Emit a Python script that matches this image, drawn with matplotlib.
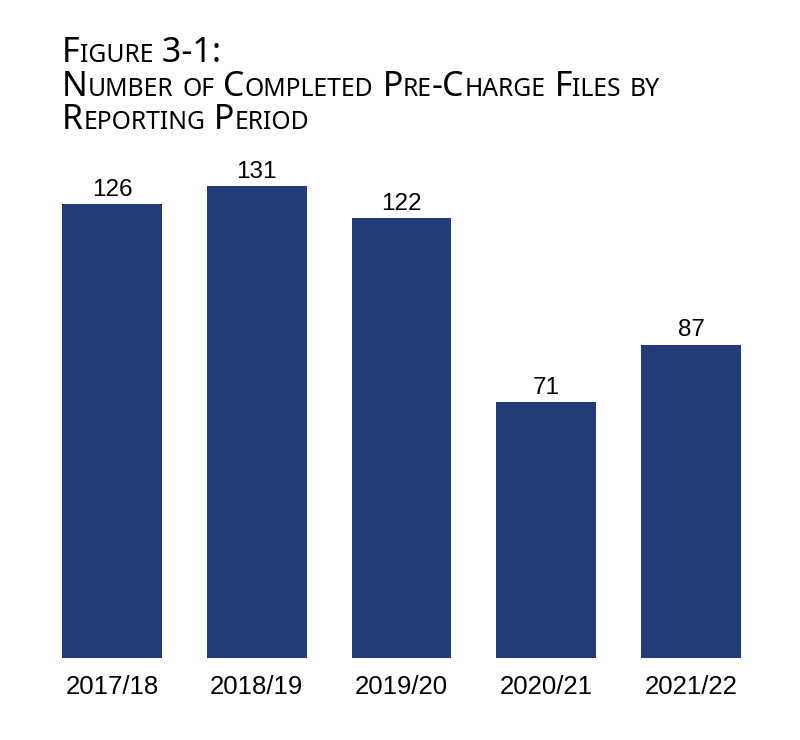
import matplotlib
matplotlib.use("Agg")
import matplotlib.pyplot as plt

# data
periods = ["2017/18", "2018/19", "2019/20", "2020/21", "2021/22"]
files_completed = [126, 131, 122, 71, 87]
title_lines = ["Figure 3-1:",
               "Number of Completed Pre-Charge Files by",
               "Reporting Period"]

bar_color = "#223c78"
num_font = "Liberation Sans"
title_font = "Noto Sans"

fig = plt.figure(figsize=(8, 7.4), dpi=100)
ax = fig.add_axes([39.6 / 800, 82 / 740, (763.4 - 39.6) / 800, 504.4 / 740])

x = range(len(periods))
bars = ax.bar(x, files_completed, width=0.69, color=bar_color)
ax.set_xlim(-0.5, len(periods) - 0.5)
ax.set_ylim(0, 140)

for rect, v in zip(bars, files_completed):
    ax.annotate(str(v), (rect.get_x() + rect.get_width() / 2, v),
                xytext=(0, 2.5), textcoords="offset points",
                ha="center", va="bottom", fontsize=17.5, family=num_font)

ax.set_xticks(list(x))
ax.set_xticklabels(periods, fontsize=18.5, family=num_font)
ax.tick_params(axis="x", length=0, pad=12)
ax.set_yticks([])
for s in ax.spines.values():
    s.set_visible(False)


# small caps title drawn piece by piece
def small_caps(text, x0, y0, big=24.5, small=17.8):
    renderer = fig.canvas.get_renderer()
    xpos = x0
    pieces = []
    cur, cur_up = "", None
    for ch in text:
        up = not ch.islower()
        if cur_up is None or up == cur_up:
            cur += ch
        else:
            pieces.append((cur, cur_up))
            cur = ch
        cur_up = up
    pieces.append((cur, cur_up))
    for s, up in pieces:
        t = fig.text(xpos, y0, s if up else s.upper(), fontsize=big if up else small,
                     family=title_font, ha="left", va="baseline",
                     transform=None)
        bb = t.get_window_extent(renderer)
        xpos = bb.x1


fig.canvas.draw()
baselines = [62, 96, 129]
for line, b in zip(title_lines, baselines):
    small_caps(line, 62, 740 - b)

fig.savefig("out.png", dpi=100)
